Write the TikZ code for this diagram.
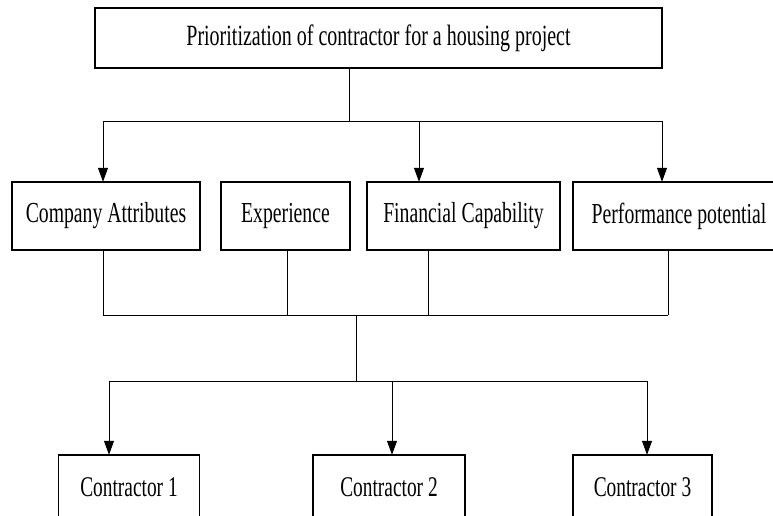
\documentclass[tikz,border=0pt]{standalone}
\usepackage{fontspec}
\setmainfont{Liberation Serif}
\newfontfamily\narrowserif[FakeStretch=0.68]{Liberation Serif}
\usetikzlibrary{arrows.meta}
\begin{document}
\begin{tikzpicture}[x=1pt,y=-1pt,
  box/.style={draw, line width=1.4pt, inner sep=0pt, align=center},
  link/.style={line width=0.8pt},
  arr/.style={link, -{Triangle[length=14pt,width=10pt]}, shorten >=-0.5pt},
  toptext/.style={font=\narrowserif\fontsize{29.4}{32}\selectfont},
  midtext/.style={font=\narrowserif\fontsize{29}{32}\selectfont},
  lowtext/.style={font=\narrowserif\fontsize{28.5}{32}\selectfont}]
\useasboundingbox (0,0) rectangle (773,515);
\clip (0,0) rectangle (773,515);

% goal
\node[box, toptext, minimum width=567pt, minimum height=60pt] (goal) at (378.5,38) {Prioritization of contractor for a housing project};

% criteria
\node[box, midtext, minimum width=188pt, minimum height=68pt] (ca) at (106,216) {Company Attributes};
\node[box, midtext, minimum width=129pt, minimum height=68pt] (ex) at (285.5,216) {Experience};
\node[box, midtext, minimum width=193pt, minimum height=68pt] (fc) at (463.5,216) {\raisebox{4pt}{Financial Capability}};
\node[box, midtext, minimum width=212pt, minimum height=68pt] (pp) at (679,216) {Performance potential};

% alternatives
\node[box, lowtext, minimum width=141pt, minimum height=64pt] (c1) at (129,487) {Contractor 1};
\node[box, lowtext, minimum width=152pt, minimum height=64pt] (c2) at (389,487) {Contractor 2};
\node[box, lowtext, minimum width=139pt, minimum height=64pt] (c3) at (642.5,487) {Contractor 3};

% upper bus
\coordinate (u1) at (103,121);
\coordinate (um) at (349,121);
\coordinate (u3) at (419,121);
\coordinate (u4) at (662,121);
\draw[link] (goal.south -| um) -- (um);
\draw[link] (u1) -- (u4);
\draw[arr] (u1) -- (u1 |- ca.north);
\draw[arr] (u3) -- (u3 |- fc.north);
\draw[arr] (u4) -- (u4 |- pp.north);

% middle bus
\coordinate (m1) at (103,315);
\coordinate (m2) at (287,315);
\coordinate (m3) at (428,315);
\coordinate (m4) at (668,315);
\coordinate (mm) at (356,315);
\draw[link] (ca.south -| m1) -- (m1);
\draw[link] (ex.south -| m2) -- (m2);
\draw[link] (fc.south -| m3) -- (m3);
\draw[link] (pp.south -| m4) -- (m4);
\draw[link] (m1) -- (m4);

% lower bus
\coordinate (lm) at (356,381);
\coordinate (l1) at (109,381);
\coordinate (l2) at (392,381);
\coordinate (l3) at (647,381);
\draw[link] (mm) -- (lm);
\draw[link] (l1) -- (l3);
\draw[arr] (l1) -- (l1 |- c1.north);
\draw[arr] (l2) -- (l2 |- c2.north);
\draw[arr] (l3) -- (l3 |- c3.north);
\end{tikzpicture}
\end{document}
